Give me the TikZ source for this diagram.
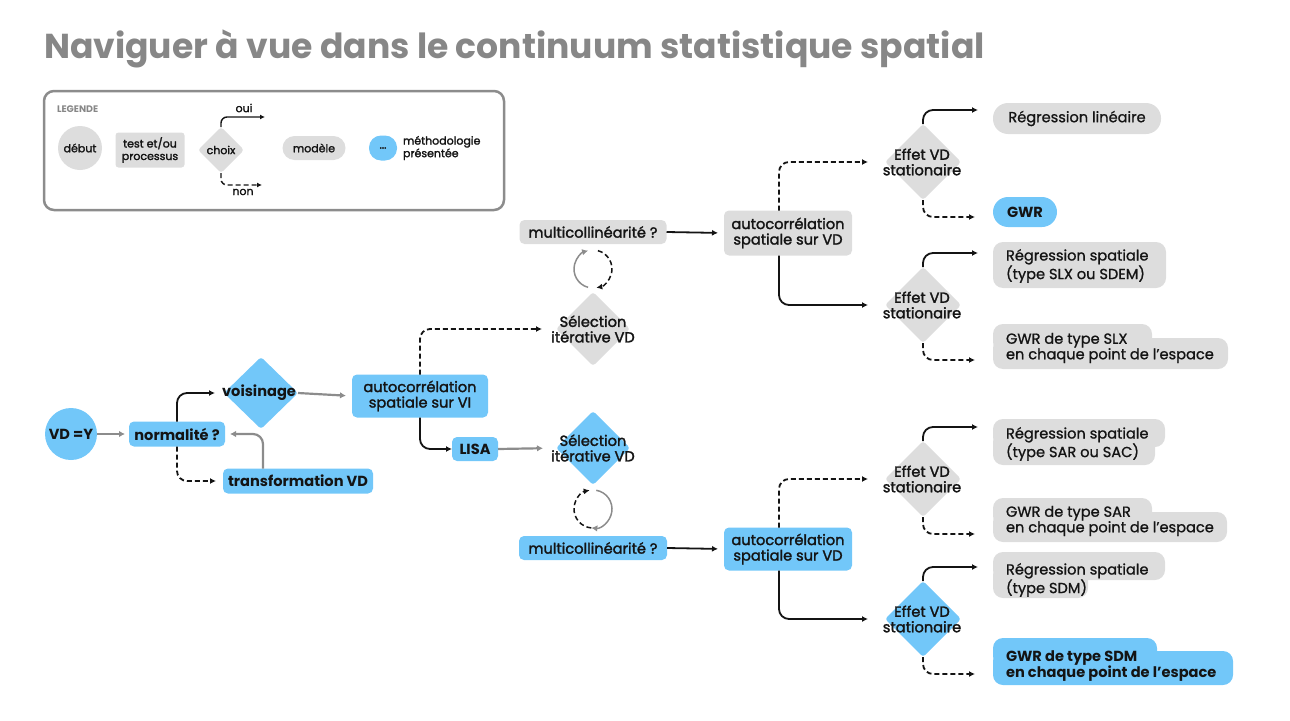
\documentclass[tikz,border=0pt]{standalone}
\usepackage{fontspec}
\setmainfont{Poppins}
\newfontfamily\pmed[FakeBold=1.8]{Poppins}
\newfontfamily\plig[FakeBold=1]{Poppins}
\usetikzlibrary{shapes.geometric,arrows.meta,calc}
\definecolor{cblue}{RGB}{114,199,249}
\definecolor{cgray}{RGB}{221,221,221}
\definecolor{agray}{RGB}{140,140,140}
\definecolor{tgray}{RGB}{135,135,135}
\definecolor{ink}{RGB}{20,20,20}
\begin{document}
\begin{tikzpicture}[x=1pt,y=1pt,
  every node/.style={inner sep=0pt, outer sep=0pt, text=ink},
  lbl/.style={font=\fontsize{14.6}{15.5}\selectfont\pmed, align=center},
  lblb/.style={font=\fontsize{14.6}{15.5}\selectfont\bfseries, align=center},
  leg/.style={font=\fontsize{11}{12.5}\selectfont\pmed, align=center},
  box/.style={rectangle, rounded corners=5pt},
  dia/.style={diamond, aspect=1, minimum width=74pt, minimum height=74pt, rounded corners=3pt},
  ar/.style={line width=1.8pt, -{Latex[length=6pt,width=6pt]}, rounded corners=10pt, draw=ink},
  gar/.style={line width=2.2pt, -{Latex[length=6pt,width=6.5pt]}, rounded corners=10pt, draw=agray},
  dsh/.style={dash pattern=on 5pt off 3pt},
  res/.style={font=\fontsize{14.6}{15.5}\selectfont\plig, align=left, anchor=west},
]
\useasboundingbox (0,0) rectangle (1290,-720);

% title
\node[anchor=base west, font=\fontsize{34.6}{38}\selectfont\bfseries, text=tgray] (title) at (44,-58) {Naviguer à vue dans le continuum statistique spatial};

% legend
\node[draw=agray, line width=2.5pt, rounded corners=10pt, minimum width=460pt, minimum height=119pt] (legend) at (274,-150.5) {};
\node[anchor=west, font=\fontsize{9.5}{10}\selectfont\bfseries, text=tgray] (legt) at (57,-109) {LEGENDE};
\node[circle, fill=cgray, minimum size=44pt, leg] (ldeb) at (80,-148) {début};
\node[box, rounded corners=3pt, fill=cgray, minimum width=69pt, minimum height=35pt, leg] (ltest) at (150,-150) {test et/ou\\processus};
\node[dia, fill=cgray, minimum width=46pt, minimum height=46pt] (lch) at (221,-150) {};
\node[leg] (lcht) at (lch) {choix};
\coordinate (loui) at (265,-117);
\coordinate (lnon) at (262,-185);
\draw[ar, line width=1.4pt, rounded corners=6pt, -{Latex[length=5pt,width=5pt]}] (lch.north) |- (loui);
\draw[ar, dsh, line width=1.4pt, rounded corners=6pt, -{Latex[length=5pt,width=5pt]}] (lch.south) |- (lnon);
\node[leg] (loui-t) at (244,-108) {oui};
\node[leg] (lnon-t) at (243,-192) {non};
\node[box, rounded corners=12pt, fill=cgray, minimum width=63pt, minimum height=24pt, leg] (lmod) at (314,-148) {modèle};
\node[box, rounded corners=12pt, fill=cblue, minimum width=28pt, minimum height=25pt, leg] (ldot) at (383,-148) {...};
\node[anchor=west, leg, align=left, font=\fontsize{11}{11}\selectfont\pmed] (lmeth) at (403,-148) {méthodologie\\présentée};

% left part
\node[circle, fill=cblue, minimum size=52pt, lblb] (vdy) at (71,-434) {VD =Y};
\node[box, fill=cblue, minimum width=96pt, minimum height=25pt, lblb] (norm) at (177,-434) {normalité ?};
\node[dia, fill=cblue, minimum width=74pt, minimum height=72pt] (vois) at (261,-393) {};
\node[lblb] (voist) at (259,-393) {voisinage};
\node[box, fill=cblue, minimum width=150pt, minimum height=25pt, lblb] (transf) at (298,-481) {transformation VD};
\node[box, fill=cblue, minimum width=136pt, minimum height=43pt, lbl] (acvi) at (420,-396) {autocorrélation\\spatiale sur VI};
\node[box, fill=cblue, minimum width=46pt, minimum height=24pt, lblb] (lisa) at (475,-449) {LISA};

\draw[gar, shorten >=4pt] (vdy) -- (norm.west);
\draw[ar, shorten >=9pt] (norm.north) |- (vois.west);
\draw[ar, dsh, shorten >=7pt] (norm.south) |- (transf.west);
\draw[gar, shorten >=5pt] ([xshift=-35pt]transf.north) |- (norm.east);
\draw[gar, shorten >=6pt] (vois.east) -- (acvi.west);

% middle
\node[dia, fill=cgray] (sel1) at (593,-329) {};
\node[lbl] (sel1t) at (sel1) {Sélection\\itérative VD};
\node[dia, fill=cblue] (sel2) at (593,-448) {};
\node[lbl] (sel2t) at (sel2) {Sélection\\itérative VD};
\node[box, fill=cgray, minimum width=147pt, minimum height=24pt, lbl] (mc1) at (593,-232) {multicollinéarité ?};
\node[box, fill=cblue, minimum width=148pt, minimum height=24pt, lbl] (mc2) at (593,-548) {multicollinéarité ?};

\draw[ar, dsh, shorten >=14pt] (acvi.north) |- (sel1.west);
\draw[ar] (acvi.south) |- (lisa.west);
\draw[gar, shorten >=13pt] (lisa.east) -- (sel2.west);

\coordinate (c1) at (593,-269);
\coordinate (c2) at (593,-509);
\draw[gar, line width=1.5pt] ($(c1)+(255:19)$) arc[start angle=255, end angle=105, radius=19];
\draw[ar, dsh, line width=1.5pt] ($(c1)+(75:19)$) arc[start angle=75, end angle=-80, radius=19];
\draw[ar, dsh, line width=1.5pt] ($(c2)+(265:19)$) arc[start angle=265, end angle=100, radius=19];
\draw[gar, line width=1.5pt] ($(c2)+(80:19)$) arc[start angle=80, end angle=-95, radius=19];

% autocorr VD
\node[box, fill=cgray, minimum width=128pt, minimum height=45pt, lbl] (acvd1) at (788,-233) {autocorrélation\\spatiale sur VD};
\node[box, fill=cblue, minimum width=128pt, minimum height=43pt, lbl] (acvd2) at (788,-549) {autocorrélation\\spatiale sur VD};
\draw[ar, shorten >=6pt] (mc1.east) -- (acvd1.west);
\draw[ar, shorten >=6pt] (mc2.east) -- (acvd2.west);

% effet VD diamonds
\foreach \n/\y/\c in {e1/162/cgray, e2/305/cgray, e3/479/cgray, e4/619/cblue}{
  \node[dia, fill=\c, minimum width=76pt, minimum height=76pt] (\n) at (923,-\y) {};
  \node[lbl] (\n t) at ([xshift=-1pt]\n) {Effet VD\\stationaire};
}
\draw[ar, dsh, shorten >=17pt] ([xshift=-9pt]acvd1.north) |- (e1.west);
\draw[ar, shorten >=17pt] ([xshift=-9pt]acvd1.south) |- (e2.west);
\draw[ar, dsh, shorten >=17pt] ([xshift=-9pt]acvd2.north) |- (e3.west);
\draw[ar, shorten >=17pt] ([xshift=-9pt]acvd2.south) |- (e4.west);

% results
\node[box, rounded corners=15pt, fill=cgray, minimum width=168pt, minimum height=31pt, font=\fontsize{14.6}{15.5}\selectfont\plig] (r1) at (1077,-118.5) {Régression linéaire};
\node[box, rounded corners=15pt, fill=cblue, minimum width=64pt, minimum height=30pt, lblb] (r2) at (1025,-212) {GWR};

\fill[cgray, rounded corners=10pt] (993,-242) rectangle (1166,-288);
\node[res] (r3) at (1006,-266) {Régression spatiale\\(type SLX ou SDEM)};

\fill[cgray, rounded corners=10pt] (993,-324) rectangle (1152,-352);
\fill[cgray, rounded corners=10pt] (993,-338) rectangle (1228,-369);
\node[res] (r4) at (1006,-348) {GWR de type SLX\\en chaque point de l’espace};

\fill[cgray, rounded corners=10pt] (993,-419) rectangle (1165,-447);
\fill[cgray, rounded corners=10pt] (993,-432) rectangle (1155,-465);
\node[res] (r5) at (1006,-444) {Régression spatiale\\(type SAR ou SAC)};

\fill[cgray, rounded corners=10pt] (993,-498) rectangle (1152,-526);
\fill[cgray, rounded corners=10pt] (993,-512) rectangle (1227,-542);
\node[res] (r6) at (1006,-521) {GWR de type SAR\\en chaque point de l’espace};

\fill[cgray, rounded corners=10pt] (993,-552) rectangle (1165,-580);
\fill[cgray, rounded corners=10pt] (993,-565) rectangle (1088,-598);
\node[res] (r7) at (1006,-580) {Régression spatiale\\(type SDM)};

\fill[cblue, rounded corners=10pt] (993,-638) rectangle (1157,-666);
\fill[cblue, rounded corners=10pt] (993,-651) rectangle (1233,-685);
\node[res, font=\fontsize{14.6}{15.5}\selectfont\bfseries] (r8) at (1006,-666) {GWR de type SDM\\en chaque point de l’espace};

% effet outputs
\foreach \n in {e1,e2,e3,e4}{
  \coordinate (\n a) at ($(\n.north)+(55,14)$);
  \coordinate (\n b) at ($(\n.south)+(52,-17)$);
  \draw[ar] (\n.north) |- (\n a);
  \draw[ar, dsh] (\n.south) |- (\n b);
}
\end{tikzpicture}
\end{document}
